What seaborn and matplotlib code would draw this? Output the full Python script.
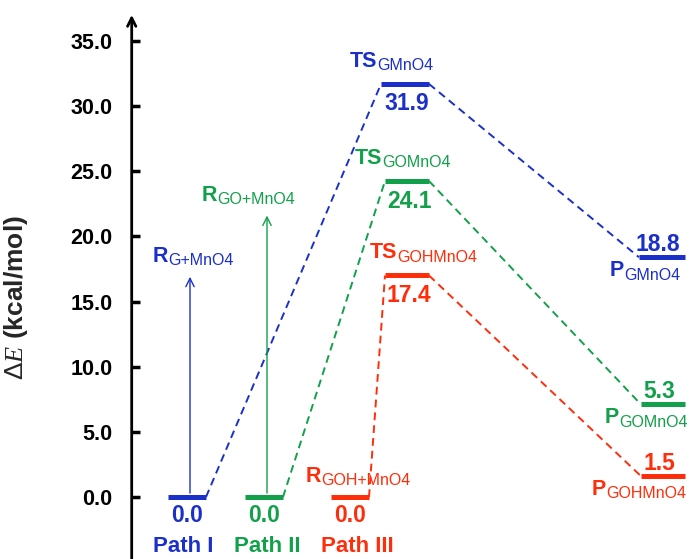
import numpy as np
import pandas as pd
import matplotlib
matplotlib.use("Agg")
import matplotlib.pyplot as plt
import seaborn as sns

# ---------------- data ----------------
paths = ["Path I", "Path II", "Path III"]
stages = ["R", "TS", "P"]
energies_I = [0.0, 31.9, 18.8]        # printed values
energies_II = [0.0, 24.1, 5.3]
energies_III = [0.0, 17.4, 1.5]
levels_I = [0.0, 31.7, 18.4]          # bar heights as drawn in the picture
levels_II = [0.0, 24.25, 7.1]
levels_III = [0.0, 17.0, 1.6]
r_names = ["G+MnO4", "GO+MnO4", "GOH+MnO4"]
ts_names = ["GMnO4", "GOMnO4", "GOHMnO4"]
p_names = ["GMnO4", "GOMnO4", "GOHMnO4"]
arrow_tops = [16.9, 21.6, None]
yticks = [0.0, 5.0, 10.0, 15.0, 20.0, 25.0, 30.0, 35.0]

# ---------------- layout ----------------
colors = ["#1a30c8", "#12a04a", "#ff2d0a"]
r_left = [168, 245, 331]
r_w = 38
ts_left = [381, 385, 385]
ts_right = 429
p_left = [639, 641, 641]
p_right = 685
ts_label_x = [350, 355, 370]
p_label_x = [610, 605, 592]
r_label_x = [153, 202, 306]
path_label_x = [183, 267, 357]
px = 13.03  # pixels per kcal/mol

sns.set_theme(style="white")
plt.rcParams["font.family"] = ["Liberation Sans", "DejaVu Sans"]
plt.rcParams["mathtext.fontset"] = "custom"
plt.rcParams["mathtext.rm"] = "Liberation Sans"
plt.rcParams["mathtext.bf"] = "Liberation Sans:bold"
plt.rcParams["mathtext.it"] = "Liberation Serif:italic"

fig = plt.figure(figsize=(6.89, 5.59), dpi=100)
x0 = 131.7
ax = fig.add_axes([x0 / 689, 0, 1 - x0 / 689, 1])
ymin = -62 / px
ymax = (559 - 62) / px
ax.set_xlim(x0, 689)
ax.set_ylim(ymin, ymax)
for s in ax.spines.values():
    s.set_visible(False)


def name_label(x, y, main, sub, color):
    t = ax.text(x, y, main, color=color, fontsize=15.5, fontweight="bold",
                ha="left", va="baseline")
    ax.annotate(sub, xy=(1, 0), xycoords=t, xytext=(0.2, 1.2),
                textcoords="offset points", color=color, fontsize=11.5,
                fontweight="normal", ha="left", va="baseline")


energies = [energies_I, energies_II, energies_III]
levels = [levels_I, levels_II, levels_III]

for i in range(3):
    c = colors[i]
    lv = levels[i]
    en = energies[i]
    rl, rr = r_left[i], r_left[i] + r_w
    tl, tr = ts_left[i], ts_right
    pl, pr = p_left[i], p_right
    # dashed connectors
    seg = pd.DataFrame({
        "x": [rr, tl, tr, pl],
        "y": [lv[0], lv[1], lv[1], lv[2]],
        "seg": [0, 0, 1, 1],
    })
    n_before = len(ax.lines)
    sns.lineplot(data=seg, x="x", y="y", units="seg", estimator=None, sort=False,
                 color=c, lw=1.4, ax=ax, legend=False)
    for ln in ax.lines[n_before:]:
        ln.set_dashes([4.0, 2.6])
    # bars
    ax.hlines([lv[0], lv[1], lv[2]], [rl, tl, pl], [rr, tr, pr], colors=c, lw=3.6)
    # value labels
    ax.text((rl + rr) / 2, lv[0] - 18 / px, f"{en[0]:.1f}", color=c, fontsize=16.5,
            fontweight="bold", ha="center", va="center")
    ax.text((tl + tr) / 2 + 2, lv[1] - 20 / px, f"{en[1]:.1f}", color=c, fontsize=16.5,
            fontweight="bold", ha="center", va="center")
    ax.text((pl + pr) / 2 - 4, lv[2] + 13 / px, f"{en[2]:.1f}", color=c, fontsize=16.5,
            fontweight="bold", ha="center", va="center")
    # names
    name_label(ts_label_x[i], lv[1] + 17 / px, "TS", ts_names[i], c)
    name_label(p_label_x[i], lv[2] - 19 / px, "P", p_names[i], c)
    ax.text(path_label_x[i], ymin + 7 / px, paths[i], color=c, fontsize=16,
            fontweight="bold", ha="center", va="baseline")
    # reactant-complex arrows
    if arrow_tops[i] is not None:
        ax.annotate("", xy=((rl + rr) / 2 + 3, arrow_tops[i]),
                    xytext=((rl + rr) / 2 + 3, lv[0] + 0.3),
                    arrowprops=dict(arrowstyle="->,head_length=0.5,head_width=0.25",
                                    color=c, lw=1.0, shrinkA=0, shrinkB=0))
        r_base = arrow_tops[i] + 15 / px
    else:
        r_base = lv[0] + 15 / px
    name_label(r_label_x[i], r_base, "R", r_names[i], c)

# y axis with arrow
ax.annotate("", xy=(0, 37.0), xytext=(0, ymin), xycoords=("axes fraction", "data"),
            textcoords=("axes fraction", "data"),
            arrowprops=dict(arrowstyle="->,head_length=0.5,head_width=0.25",
                            color="black", lw=2.0, shrinkA=0, shrinkB=0))
ax.set_yticks(yticks)
ax.set_yticklabels([f"{t:.1f}" for t in yticks], fontsize=15.5, fontweight="bold")
ax.tick_params(axis="y", direction="in", length=6, width=2.5, pad=14, left=True,
               colors="black")
ax.set_xticks([])
ax.set_xlabel("")
ax.set_ylabel("$\\mathit{ΔE}$ (kcal/mol)", fontsize=19, fontweight="bold")
ax.yaxis.set_label_coords(-0.1825, 0.468)

fig.savefig("out.png", dpi=100)
